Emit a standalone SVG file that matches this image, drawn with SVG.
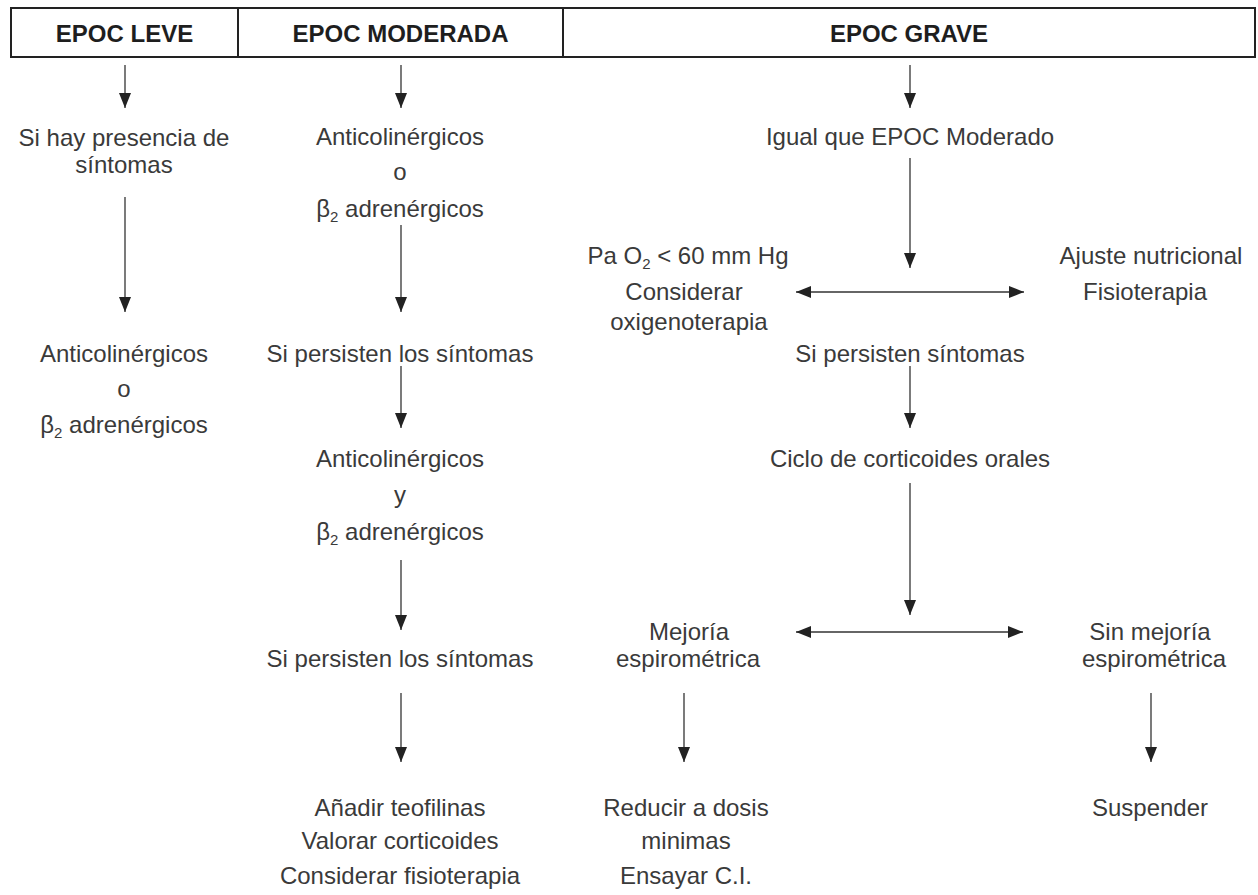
<svg xmlns="http://www.w3.org/2000/svg" width="1258" height="895" viewBox="0 0 1258 895">
<defs>
<marker id="ah" viewBox="0 0 15 12" refX="15" refY="6" markerWidth="15" markerHeight="12" markerUnits="userSpaceOnUse" orient="auto-start-reverse">
<path d="M0,0 L15,6 L0,12 z" fill="#222"/>
</marker>
<style>
.t{font-family:"Liberation Sans",Arial,sans-serif;font-size:24px;fill:#3a3a3a;text-anchor:middle}
.h{font-family:"Liberation Sans",Arial,sans-serif;font-size:24px;font-weight:bold;fill:#1e1e1e;text-anchor:middle}
.sub{font-size:15px}
.c line{stroke:#333;stroke-width:1.3;fill:none}
.a{marker-end:url(#ah)}
.d{marker-start:url(#ah);marker-end:url(#ah)}
</style>
</defs>
<rect width="1258" height="895" fill="#fff"/>
<g id="header">
<rect x="11" y="8" width="1244" height="49" fill="#fff" stroke="#222" stroke-width="2"/>
<line x1="238" y1="8" x2="238" y2="57" stroke="#222" stroke-width="2"/>
<line x1="563" y1="8" x2="563" y2="57" stroke="#222" stroke-width="2"/>
<text class="h" x="124.5" y="42">EPOC LEVE</text>
<text class="h" x="400.5" y="42">EPOC MODERADA</text>
<text class="h" x="909" y="42">EPOC GRAVE</text>
</g>
<g id="connectors" class="c">
<line class="a" x1="125" y1="65" x2="125" y2="108"/>
<line class="a" x1="401" y1="65" x2="401" y2="108"/>
<line class="a" x1="910" y1="65" x2="910" y2="108"/>
<line class="a" x1="125" y1="197" x2="125" y2="312"/>
<line class="a" x1="401" y1="225" x2="401" y2="312"/>
<line class="a" x1="401" y1="366" x2="401" y2="428"/>
<line class="a" x1="401" y1="560" x2="401" y2="630"/>
<line class="a" x1="401" y1="693" x2="401" y2="762"/>
<line class="a" x1="910" y1="158" x2="910" y2="268"/>
<line class="d" x1="796" y1="292" x2="1024" y2="292"/>
<line class="a" x1="910" y1="366" x2="910" y2="428"/>
<line class="a" x1="910" y1="483" x2="910" y2="615"/>
<line class="d" x1="796" y1="632" x2="1023" y2="632"/>
<line class="a" x1="684" y1="693" x2="684" y2="762"/>
<line class="a" x1="1151" y1="693" x2="1151" y2="762"/>
</g>
<g id="n-leve-1"><text class="t" x="124" y="146">Si hay presencia de</text><text class="t" x="124" y="173">síntomas</text></g>
<g id="n-leve-2"><text class="t" x="124" y="362">Anticolinérgicos</text><text class="t" x="124" y="397">o</text><text class="t" x="124" y="433">β<tspan class="sub" dy="5">2</tspan><tspan dy="-5"> adrenérgicos</tspan></text></g>
<g id="n-mod-1"><text class="t" x="400" y="145">Anticolinérgicos</text><text class="t" x="400" y="180">o</text><text class="t" x="400" y="217">β<tspan class="sub" dy="5">2</tspan><tspan dy="-5"> adrenérgicos</tspan></text></g>
<g id="n-mod-2"><text class="t" x="400" y="362">Si persisten los síntomas</text></g>
<g id="n-mod-3"><text class="t" x="400" y="467">Anticolinérgicos</text><text class="t" x="400" y="503">y</text><text class="t" x="400" y="540">β<tspan class="sub" dy="5">2</tspan><tspan dy="-5"> adrenérgicos</tspan></text></g>
<g id="n-mod-4"><text class="t" x="400" y="667">Si persisten los síntomas</text></g>
<g id="n-mod-5"><text class="t" x="400" y="816">Añadir teofilinas</text><text class="t" x="400" y="849">Valorar corticoides</text><text class="t" x="400" y="884">Considerar fisioterapia</text></g>
<g id="n-grave-1"><text class="t" x="910" y="145">Igual que EPOC Moderado</text></g>
<g id="n-grave-oxi"><text class="t" x="688" y="264">Pa O<tspan class="sub" dy="5">2</tspan><tspan dy="-5"> &lt; 60 mm Hg</tspan></text><text class="t" x="684" y="300">Considerar</text><text class="t" x="689" y="330">oxigenoterapia</text></g>
<g id="n-grave-nutri"><text class="t" x="1151" y="264">Ajuste nutricional</text><text class="t" x="1145" y="300">Fisioterapia</text></g>
<g id="n-grave-2"><text class="t" x="910" y="362">Si persisten síntomas</text></g>
<g id="n-grave-3"><text class="t" x="910" y="467">Ciclo de corticoides orales</text></g>
<g id="n-grave-mejoria"><text class="t" x="689" y="640">Mejoría</text><text class="t" x="688" y="667">espirométrica</text></g>
<g id="n-grave-sin"><text class="t" x="1150" y="640">Sin mejoría</text><text class="t" x="1154" y="667">espirométrica</text></g>
<g id="n-grave-reducir"><text class="t" x="686" y="816">Reducir a dosis</text><text class="t" x="686" y="849">minimas</text><text class="t" x="686" y="884">Ensayar C.I.</text></g>
<g id="n-grave-susp"><text class="t" x="1150" y="816">Suspender</text></g>
</svg>
